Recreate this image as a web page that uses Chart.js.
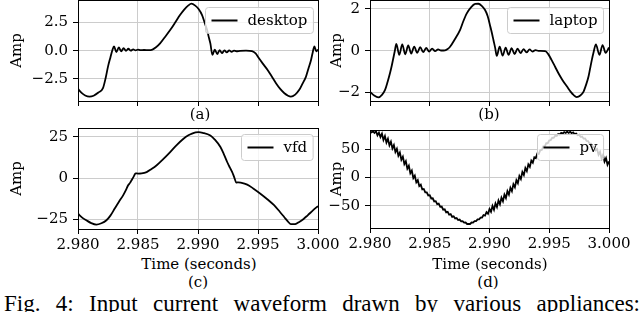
<!DOCTYPE html>
<html><head><meta charset="utf-8">
<script src="https://cdn.jsdelivr.net/npm/chart.js@4.4.1/dist/chart.umd.min.js"></script>
<style>
html,body{margin:0;padding:0;background:#fff;}
body{width:640px;height:312px;overflow:hidden;position:relative;}
canvas{position:absolute;}
.t{position:absolute;font-family:"DejaVu Serif",serif;font-size:15px;color:#000;text-align:center;width:200px;line-height:18px;white-space:nowrap;}
.cap{position:absolute;left:4px;width:636px;top:291px;font-family:"Liberation Serif","Times New Roman",serif;font-size:23px;line-height:26px;color:#000;text-align:justify;text-align-last:justify;white-space:nowrap;}
</style></head>
<body>
<canvas id="ca"></canvas><canvas id="cb"></canvas><canvas id="cc"></canvas><canvas id="cd"></canvas>
<div class="t" style="left:100px;top:105px">(a)</div>
<div class="t" style="left:389px;top:105px">(b)</div>
<div class="t" style="left:99px;top:255px">Time (seconds)</div>
<div class="t" style="left:390px;top:255px">Time (seconds)</div>
<div class="t" style="left:98px;top:273px">(c)</div>
<div class="t" style="left:388px;top:273px">(d)</div>
<div class="cap">Fig. 4: Input current waveform drawn by various appliances:</div>
<script>
// time axis: start of window (s); series times are in ms after T0
const T0 = 2.980;
const T1 = 3.000;
const xTicks = [2.980, 2.985, 2.990, 2.995, 3.000];
const xTickLabels = ['2.980', '2.985', '2.990', '2.995', '3.000'];

// (a) desktop
const desktopMs = [0,0.3,0.6,0.96,1.3,1.7,2.08,2.3,2.5,2.7,2.87,3.0,3.2,3.4,3.6,3.8,4.0,4.2,4.4,4.6,4.8,5.0,5.2,5.5,5.9,6.2,6.5,6.84,7.2,7.68,8.1,8.5,8.85,9.2,9.45,9.77,10.05,10.34,10.55,10.76,10.9,11.03,11.2,11.4,11.6,11.8,12.0,12.2,12.4,12.6,12.8,13.0,13.2,13.5,14.0,14.5,14.8,15.08,15.4,15.8,16.15,16.5,16.85,17.2,17.5,17.74,18.1,18.44,18.7,19.0,19.2,19.42,19.55,19.7,19.85,20.0];
const desktopAmp = [-3.40,-3.75,-3.98,-4.08,-4.0,-3.72,-3.33,-2.45,-1.42,-0.6,0.06,0.38,-0.12,0.28,-0.06,0.22,-0.02,0.17,0.0,0.12,0.02,0.09,0.04,0.06,0.05,0.1,0.3,0.65,1.15,1.83,2.5,3.16,3.65,4.02,4.17,4.0,3.7,3.16,2.5,1.83,1.2,0.65,-0.38,0.1,-0.3,0.05,-0.22,0.03,-0.15,0.02,-0.1,0.0,-0.05,-0.02,0.0,-0.05,-0.25,-0.68,-1.15,-1.71,-2.3,-2.89,-3.4,-3.78,-4.0,-4.08,-3.9,-3.48,-2.95,-2.3,-1.6,-0.82,-0.2,0.38,-0.05,0.1];

// (b) laptop
const laptopMs = [0,0.35,0.7,1.0,1.26,1.47,1.67,1.82,1.95,2.08,2.2,2.45,2.7,2.95,3.2,3.45,3.7,3.95,4.2,4.45,4.7,4.95,5.2,5.45,5.7,5.95,6.28,6.5,6.7,7.1,7.54,7.8,8.1,8.45,8.8,9.07,9.35,9.63,9.85,10.05,10.2,10.33,10.47,10.61,10.85,11.1,11.35,11.6,11.85,12.1,12.35,12.6,12.85,13.1,13.35,13.6,13.85,14.1,14.66,14.9,15.2,15.5,15.77,16.1,16.5,16.8,17.03,17.3,17.6,17.86,18.1,18.28,18.42,18.56,18.7,18.9,19.2,19.46,19.72,20.0];
const laptopAmp = [-1.97,-2.15,-2.24,-2.12,-1.88,-1.5,-1.08,-0.72,-0.36,0.0,0.33,-0.2,0.3,-0.17,0.25,-0.14,0.2,-0.1,0.17,-0.07,0.13,-0.04,0.1,-0.02,0.06,0.01,0.02,0.08,0.19,0.55,1.0,1.4,1.79,2.08,2.24,2.25,2.15,1.95,1.65,1.2,0.85,0.51,0.15,-0.25,0.2,-0.24,0.15,-0.2,0.12,-0.16,0.1,-0.12,0.08,-0.08,0.06,-0.04,0.03,-0.01,-0.02,-0.15,-0.45,-0.78,-1.08,-1.4,-1.73,-1.97,-2.12,-2.22,-2.15,-1.97,-1.6,-1.25,-0.85,-0.45,-0.1,0.3,-0.2,0.27,-0.1,0.15];

// (c) vfd
const vfdMs = [0,0.35,0.69,1.1,1.53,1.95,2.37,2.7,3.06,3.4,3.76,4.0,4.18,4.35,4.46,4.65,4.8,5.0,5.3,5.72,6.1,6.56,7.1,7.68,8.2,8.79,9.2,9.5,9.8,10.05,10.4,11.03,11.4,11.87,12.15,12.43,12.65,12.85,13.0,13.2,13.35,13.55,14.1,14.6,15.2,15.8,16.34,16.8,17.18,17.5,17.74,18.1,18.44,18.8,19.14,19.6,20.0];
const vfdAmp = [-21.6,-24,-25.6,-27.3,-28.2,-27.4,-25.6,-22.8,-18.5,-14.5,-10.5,-7.2,-4.4,-2.8,-1.4,1.0,2.8,2.7,2.8,3.6,5.3,7.7,11.4,15.7,19.8,23.8,25.9,26.9,27.6,27.8,27.4,25.8,23.3,18.8,14.5,9.7,6.4,3.6,0.8,-2.8,-2.6,-2.8,-4.0,-6.3,-9.5,-13.0,-16.5,-20.3,-23.6,-26.4,-28.0,-27.9,-26.6,-24.8,-22.6,-19.5,-17.0];

// (d) pv, sampled every 0.125 ms (noisy waveform)
const pvStepMs = 0.125;
const pvAmp = [81.5,79.3,81,78.3,81.5,74.3,79,71.3,77,66,73,61.5,68,56.5,63,51,57,44.8,50.5,38.2,43.9,31.2,36.5,23.5,28.5,15.5,20.5,7.3,12,-1.3,3,-8.8,-5,-15.5,-13,-21.3,-20.5,-26.5,-26.5,-32,-31.5,-37.3,-37,-42.5,-42,-47.3,-46.5,-52,-51.5,-57,-56.5,-61.8,-61,-66,-65,-69.8,-68.8,-72.7,-72,-75.3,-74.5,-77.6,-77.2,-80,-79.7,-82.3,-82,-82.3,-79.7,-80,-77.2,-77.3,-74.2,-74.3,-71,-71,-66.5,-67.5,-61.5,-64.3,-56,-60.8,-50.5,-57.3,-46,-52.5,-41,-47.5,-36,-42.3,-30.5,-36.5,-24.5,-30.5,-18.5,-24.3,-12,-17.5,-5,-10.3,2.5,-3,9.5,4,16.5,11,23,18.5,29.5,26,35.5,34,42,41.3,48,48.3,54.5,54.5,60.5,60.3,65.5,65.8,70,69.8,73.5,73,76.5,75.5,78.5,77.3,80,78.3,80.5,78.5,80.5,78,79.5,76.5,77.5,74.3,75,71.5,72,68.3,68.5,64.3,64,59.5,59.5,53.8,54.5,47.8,50,40,45,33.5,39.5,27.8,34,22.3,28];
const pvMs = pvAmp.map((_, i) => i * pvStepMs);

// y ticks
const aTicks = [-2.5, 0, 2.5], aTickLabels = ['\u22122.5', '0.0', '2.5'];
const bTicks = [-2, 0, 2],     bTickLabels = ['\u22122', '0', '2'];
const cTicks = [-25, 0, 25],   cTickLabels = ['\u221225', '0', '25'];
const dTicks = [-50, 0, 50],   dTickLabels = ['\u221250', '0', '50'];

const FONT = 'DejaVu Serif';
Chart.defaults.color = '#000';

const framePlugin = {
  id: 'frame',
  afterDatasetsDraw(chart) {
    const {ctx, chartArea: a} = chart;
    ctx.save();
    ctx.strokeStyle = '#000';
    ctx.lineWidth = 1;
    const l = Math.round(a.left), t = Math.round(a.top), r = Math.round(a.right), b = Math.round(a.bottom);
    ctx.strokeRect(l + 0.5, t + 0.5, r - l, b - t);
    ctx.restore();
  }
};

function legendPlugin(label, offTop, offRight) {
  return {
    id: 'lg',
    afterDraw(chart) {
      const {ctx, chartArea: a} = chart;
      ctx.save();
      ctx.font = '15px "' + FONT + '"';
      const tw = ctx.measureText(label).width;
      const pad = 6, hl = 26, gap = 10, h = 26;
      const w = pad + hl + gap + tw + pad;
      const x = Math.round(a.right - offRight - w) + 0.5, y = Math.round(a.top + offTop) + 0.5;
      const r = 3;
      ctx.beginPath();
      ctx.moveTo(x + r, y);
      ctx.lineTo(x + w - r, y); ctx.quadraticCurveTo(x + w, y, x + w, y + r);
      ctx.lineTo(x + w, y + h - r); ctx.quadraticCurveTo(x + w, y + h, x + w - r, y + h);
      ctx.lineTo(x + r, y + h); ctx.quadraticCurveTo(x, y + h, x, y + h - r);
      ctx.lineTo(x, y + r); ctx.quadraticCurveTo(x, y, x + r, y);
      ctx.closePath();
      ctx.fillStyle = 'rgba(255,255,255,0.8)';
      ctx.fill();
      ctx.strokeStyle = '#cccccc';
      ctx.lineWidth = 1;
      ctx.stroke();
      ctx.beginPath();
      ctx.moveTo(x + pad, y + h / 2);
      ctx.lineTo(x + pad + hl, y + h / 2);
      ctx.strokeStyle = '#000';
      ctx.lineWidth = 2;
      ctx.stroke();
      ctx.fillStyle = '#000';
      ctx.textBaseline = 'middle';
      ctx.fillText(label, x + pad + hl + gap, y + h / 2 + 0.5);
      ctx.restore();
    }
  };
}

function makeChart(id, c) {
  const canvas = document.getElementById(id);
  canvas.width = c.cw; canvas.height = c.ch;
  canvas.style.left = c.cx + 'px'; canvas.style.top = c.cy + 'px';
  const left = c.L - c.cx, top = c.T - c.cy, right = c.R - c.cx, bottom = c.B - c.cy;
  const pts = c.ms.map((t, i) => ({x: T0 + t / 1000, y: c.amp[i]}));
  return new Chart(canvas, {
    type: 'line',
    data: {datasets: [{label: c.label, data: pts, borderColor: '#000', borderWidth: c.lw || 1.8,
      pointRadius: 0, tension: 0, cubicInterpolationMode: c.smooth ? 'monotone' : 'default', fill: false}]},
    options: {
      responsive: false, animation: false, devicePixelRatio: 1,
      layout: {padding: {left: 0, top: top, right: c.cw - right, bottom: 0}},
      plugins: {legend: {display: false}, tooltip: {enabled: false}},
      scales: {
        x: {
          type: 'linear', min: T0, max: T1,
          afterBuildTicks: s => { s.ticks = xTicks.map(v => ({value: v})); },
          afterFit: s => { s.height = c.ch - bottom; s.paddingLeft = 0; s.paddingRight = 0; },
          ticks: {display: c.showX, autoSkip: false, maxRotation: 0, padding: 2,
            callback: (v, i) => xTickLabels[i], font: {family: FONT, size: 15}, color: '#000'},
          grid: {color: '#cccccc', lineWidth: 1, tickLength: 5, tickColor: '#000', tickWidth: 1},
          border: {display: false}
        },
        y: {
          type: 'linear', min: c.ymin, max: c.ymax,
          afterBuildTicks: s => { s.ticks = c.yTicks.map(v => ({value: v})); },
          afterFit: s => { s.width = left; s.paddingTop = 0; s.paddingBottom = 0; },
          ticks: {autoSkip: false, padding: 5, callback: (v, i) => c.yLabels[i],
            font: {family: FONT, size: 15}, color: '#000'},
          grid: {color: '#cccccc', lineWidth: 1, tickLength: 5, tickColor: '#000', tickWidth: 1},
          border: {display: false},
          title: {display: true, text: 'Amp', font: {family: FONT, size: 15}, color: '#000', padding: {top: 8, bottom: 0}}
        }
      }
    },
    plugins: [framePlugin, legendPlugin(c.label, c.lgTop, c.lgRight)]
  });
}

makeChart('ca', {cx: 0, cy: 0, cw: 322, ch: 120, L: 78, T: 0, R: 318, B: 101,
  ymin: -4.47, ymax: 4.5, yTicks: aTicks, yLabels: aTickLabels, showX: false, smooth: true,
  label: 'desktop', ms: desktopMs, amp: desktopAmp, lgTop: 7, lgRight: 5});
makeChart('cb', {cx: 320, cy: 0, cw: 320, ch: 120, L: 370, T: 0, R: 609, B: 101,
  ymin: -2.41, ymax: 2.43, yTicks: bTicks, yLabels: bTickLabels, showX: false, smooth: true,
  label: 'laptop', ms: laptopMs, amp: laptopAmp, lgTop: 7, lgRight: 6});
makeChart('cc', {cx: 0, cy: 120, cw: 345, ch: 135, L: 78, T: 128, R: 318, B: 229,
  ymin: -30.9, ymax: 30.3, yTicks: cTicks, yLabels: cTickLabels, showX: true, smooth: true,
  label: 'vfd', ms: vfdMs, amp: vfdAmp, lgTop: 6, lgRight: 5});
makeChart('cd', {cx: 320, cy: 120, cw: 320, ch: 135, L: 370, T: 130, R: 609, B: 228,
  ymin: -89.4, ymax: 83.6, yTicks: dTicks, yLabels: dTickLabels, showX: true, smooth: false,
  label: 'pv', ms: pvMs, amp: pvAmp, lgTop: 4, lgRight: 6, lw: 1.8});
</script>
</body></html>
